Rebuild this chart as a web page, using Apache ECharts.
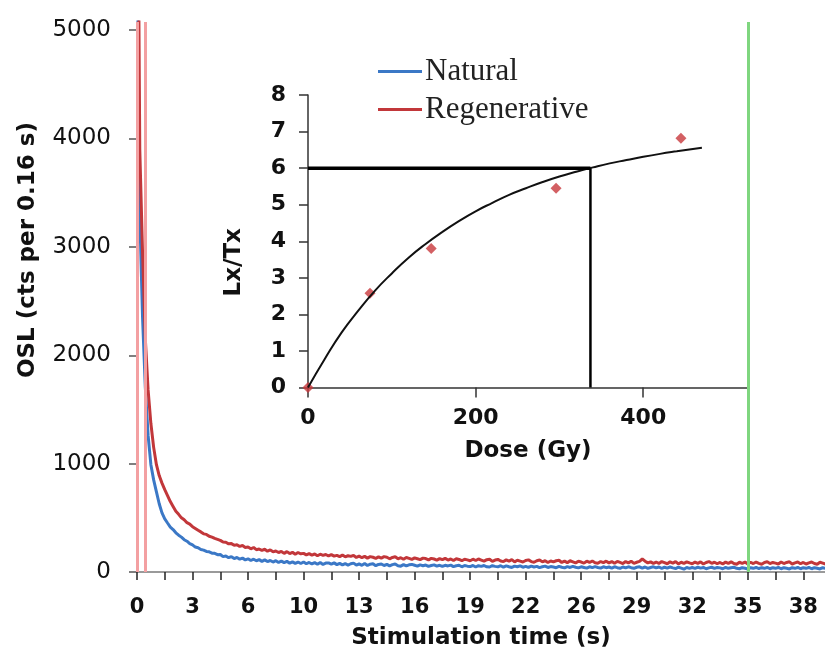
<!DOCTYPE html>
<html>
<head>
<meta charset="utf-8">
<script src="https://cdn.jsdelivr.net/npm/echarts@6/dist/echarts.min.js"></script>
<style>
html, body { margin: 0; padding: 0; background: #fff; }
#main { width: 825px; height: 660px; }
</style>
</head>
<body>
<div id="main"></div>
<script>
// --- OSL decay curves, one value per 0.16 s channel ---
const CHANNEL = 0.16;

const natural = [
  6000, 3300, 2350, 1700, 1260, 990, 850, 740, 630, 545,
  490, 452, 415, 392, 362, 340, 322, 298, 284, 262,
  250, 230, 224, 208, 202, 190, 186, 174, 172, 160,
  162, 142, 148, 132, 142, 124, 134, 118, 128, 112,
  122, 106, 118, 104, 114, 98, 112, 96, 106, 92,
  104, 88, 100, 86, 98, 82, 94, 80, 92, 78,
  92, 76, 88, 74, 86, 72, 88, 70, 82, 84,
  72, 84, 68, 80, 66, 78, 64, 76, 82, 64,
  74, 62, 78, 60, 72, 76, 58, 70, 74, 60,
  70, 56, 68, 74, 58, 54, 68, 56, 66, 70,
  62, 54, 66, 58, 64, 52, 60, 66, 54, 62,
  52, 62, 56, 64, 50, 58, 62, 48, 60, 54,
  50, 60, 46, 58, 52, 60, 48, 46, 58, 52,
  48, 58, 44, 56, 48, 42, 54, 48, 56, 44,
  52, 42, 54, 46, 52, 40, 48, 54, 42, 50,
  46, 40, 52, 44, 38, 50, 42, 52, 44, 38,
  48, 42, 36, 48, 40, 50, 42, 36, 48, 40,
  46, 36, 48, 40, 34, 46, 38, 48, 40, 34,
  44, 48, 36, 46, 34, 42, 48, 38, 46, 34,
  44, 36, 46, 38, 32, 44, 36, 26, 42, 34,
  42, 34, 44, 36, 42, 30, 38, 44, 34, 42,
  38, 30, 42, 34, 40, 44, 34, 30, 40, 34,
  28, 40, 34, 42, 32, 40, 34, 42, 30, 40,
  34, 42, 30, 40, 34, 28, 40, 34, 42, 30,
  40, 34, 42, 30, 40, 34, 28, 40, 34, 42
];

const regenerative = [
  7800, 3900, 2950, 2150, 1680, 1370, 1150, 990, 890, 820,
  760, 705, 650, 605, 560, 532, 500, 482, 455, 442,
  418, 402, 385, 370, 352, 347, 330, 322, 310, 301,
  292, 276, 274, 260, 262, 246, 252, 236, 244, 226,
  230, 214, 226, 206, 212, 200, 210, 192, 204, 186,
  194, 180, 190, 172, 188, 170, 182, 164, 180, 168,
  172, 158, 170, 156, 166, 150, 164, 154, 162, 148,
  160, 146, 154, 142, 156, 140, 150, 144, 154, 134,
  146, 132, 144, 128, 142, 136, 126, 140, 128, 142,
  136, 122, 134, 140, 122, 132, 118, 134, 126, 116,
  130, 122, 114, 128, 124, 112, 126, 120, 110, 124,
  114, 126, 110, 120, 106, 122, 116, 104, 118, 112,
  104, 118, 106, 120, 110, 100, 114, 118, 98, 110,
  116, 102, 96, 112, 100, 114, 94, 108, 100, 92,
  106, 112, 96, 90, 104, 110, 94, 104, 88, 102,
  94, 104, 108, 88, 100, 86, 104, 94, 84, 100,
  92, 82, 100, 88, 102, 86, 80, 96, 86, 100,
  84, 96, 80, 98, 88, 78, 96, 84, 100, 80,
  90, 98, 120, 100, 84, 94, 80, 92, 78, 96,
  86, 76, 94, 82, 96, 74, 90, 80, 94, 84,
  76, 92, 80, 94, 74, 88, 96, 80, 90, 76,
  88, 74, 92, 80, 94, 78, 72, 90, 80, 92,
  74, 90, 78, 92, 80, 72, 88, 94, 78, 88,
  82, 74, 92, 78, 88, 94, 74, 84, 92, 76,
  88, 74, 84, 92, 78, 72, 90, 82, 74, 88
];

// integration windows (s)
const signalWindow = [0, 0.45];
const backgroundStart = 35.2;

const xTicks = [0, 1.6, 3.2, 4.8, 6.4, 8, 9.6, 11.2, 12.8, 14.4, 16, 17.6, 19.2,
  20.8, 22.4, 24, 25.6, 27.2, 28.8, 30.4, 32, 33.6, 35.2, 36.8, 38.4];
const xLabels = [0, 3.2, 6.4, 9.6, 12.8, 16, 19.2, 22.4, 25.6, 28.8, 32, 35.2, 38.4];
const yTicks = [0, 1000, 2000, 3000, 4000, 5000];

// --- dose response (inset) ---
const doses = [0, 74, 147, 296, 445];
const ratios = [0, 2.58, 3.8, 5.45, 6.82];
const fitDose = [0, 20, 40, 60, 80, 100, 120, 140, 160, 180, 200, 220, 240, 260,
  280, 300, 320, 340, 360, 380, 400, 420, 440, 470];
const fitRatio = [0, 0.78, 1.5, 2.1, 2.65, 3.12, 3.55, 3.92, 4.25, 4.55, 4.82, 5.05,
  5.27, 5.45, 5.62, 5.77, 5.9, 6.02, 6.13, 6.22, 6.31, 6.39, 6.46, 6.56];
const naturalRatio = 6;
const equivalentDose = 337;
const doseTicks = [0, 200, 400];

const BLUE = '#3b78c6';
const RED = '#c2373a';
const TITLE_FONT = { fontFamily: 'DejaVu Sans', fontWeight: 'bold', fontSize: 23, color: '#111' };

const chart = echarts.init(document.getElementById('main'));

const toPairs = arr => arr.map((v, i) => [+(i * CHANNEL).toFixed(2), v]);

const option = {
  animation: false,
  legend: {
    data: ['Natural', 'Regenerative'],
    orient: 'vertical',
    left: 373,
    top: 51,
    icon: 'rect',
    itemWidth: 44,
    itemHeight: 3,
    itemGap: 7,
    textStyle: { fontFamily: 'Liberation Serif', fontSize: 31, lineHeight: 31, color: '#222', padding: [0, 0, 0, -2] }
  },
  grid: [
    { left: 137, right: 0, top: 22, bottom: 88 },
    { left: 308, top: 95, width: 440, height: 292.5 }
  ],
  xAxis: [
    {
      type: 'value', min: 0, max: 39.65,
      name: 'Stimulation time (s)', nameLocation: 'middle', nameGap: 55,
      nameTextStyle: TITLE_FONT,
      splitLine: { show: false },
      axisLine: { lineStyle: { color: '#9a9a9a', width: 2 } },
      axisTick: { customValues: xTicks, length: 8, lineStyle: { color: '#222', width: 1.5 } },
      axisLabel: {
        customValues: xLabels, margin: 25,
        formatter: v => String(Math.round(v)),
        fontFamily: 'DejaVu Sans', fontWeight: 'bold', fontSize: 21, color: '#111'
      }
    },
    {
      type: 'value', gridIndex: 1, min: 0, max: 525,
      name: 'Dose (Gy)', nameLocation: 'middle', nameGap: 52,
      nameTextStyle: TITLE_FONT,
      splitLine: { show: false },
      axisLine: { lineStyle: { color: '#333', width: 1.5 } },
      axisTick: { customValues: doseTicks, length: 10, lineStyle: { color: '#333', width: 1.5 } },
      axisLabel: {
        customValues: doseTicks, margin: 20,
        fontFamily: 'DejaVu Sans', fontWeight: 'bold', fontSize: 22, color: '#111'
      }
    }
  ],
  yAxis: [
    {
      type: 'value', min: 0, max: 5075,
      name: 'OSL (cts per 0.16 s)', nameLocation: 'middle', nameGap: 97,
      nameTextStyle: Object.assign({ padding: [0, 0, 0, 94] }, TITLE_FONT),
      splitLine: { show: false },
      axisLine: { show: true, lineStyle: { color: '#aaa', width: 1 } },
      axisTick: { show: true, customValues: yTicks, length: 8, lineStyle: { color: '#555', width: 1.5 } },
      axisLabel: {
        customValues: yTicks, margin: 26,
        formatter: v => String(v),
        fontFamily: 'DejaVu Sans', fontSize: 23, color: '#111'
      }
    },
    {
      type: 'value', gridIndex: 1, min: 0, max: 8, interval: 1,
      name: 'Lx/Tx', nameLocation: 'middle', nameGap: 62,
      nameTextStyle: Object.assign({ padding: [0, 42, 0, 0] }, TITLE_FONT),
      splitLine: { show: false },
      axisLine: { show: true, lineStyle: { color: '#333', width: 1.5 } },
      axisTick: { show: true, length: 9, lineStyle: { color: '#333', width: 1.5 } },
      axisLabel: { margin: 22, fontFamily: 'DejaVu Sans', fontWeight: 'bold', fontSize: 22, color: '#111' }
    }
  ],
  series: [
    {
      name: 'Natural', type: 'line', symbol: 'none',
      data: toPairs(natural),
      lineStyle: { color: BLUE, width: 3 }, itemStyle: { color: BLUE },
      markLine: {
        silent: true, symbol: ['none', 'none'], label: { show: false },
        data: [
          { xAxis: signalWindow[0], lineStyle: { color: '#f3a0a2', width: 3, type: 'solid' } },
          { xAxis: signalWindow[1], lineStyle: { color: '#f3a0a2', width: 3, type: 'solid' } },
          { xAxis: backgroundStart, lineStyle: { color: '#7fd67f', width: 3, type: 'solid' } }
        ]
      }
    },
    {
      name: 'Regenerative', type: 'line', symbol: 'none',
      data: toPairs(regenerative),
      lineStyle: { color: RED, width: 3 }, itemStyle: { color: RED }
    },
    {
      type: 'line', xAxisIndex: 1, yAxisIndex: 1, symbol: 'none', smooth: true,
      data: fitDose.map((d, i) => [d, fitRatio[i]]),
      lineStyle: { color: '#111', width: 2 }
    },
    {
      type: 'line', xAxisIndex: 1, yAxisIndex: 1, symbol: 'none',
      data: [[0, naturalRatio], [equivalentDose, naturalRatio]],
      lineStyle: { color: '#000', width: 3.5 }
    },
    {
      type: 'line', xAxisIndex: 1, yAxisIndex: 1, symbol: 'none',
      data: [[equivalentDose, 0], [equivalentDose, naturalRatio]],
      lineStyle: { color: '#000', width: 2.5 }
    },
    {
      type: 'scatter', xAxisIndex: 1, yAxisIndex: 1, symbol: 'diamond', symbolSize: 11,
      data: doses.map((d, i) => [d, ratios[i]]),
      itemStyle: { color: '#c8383c' }
    }
  ]
};

chart.setOption(option);
window.addEventListener('resize', () => chart.resize());
</script>
</body>
</html>
